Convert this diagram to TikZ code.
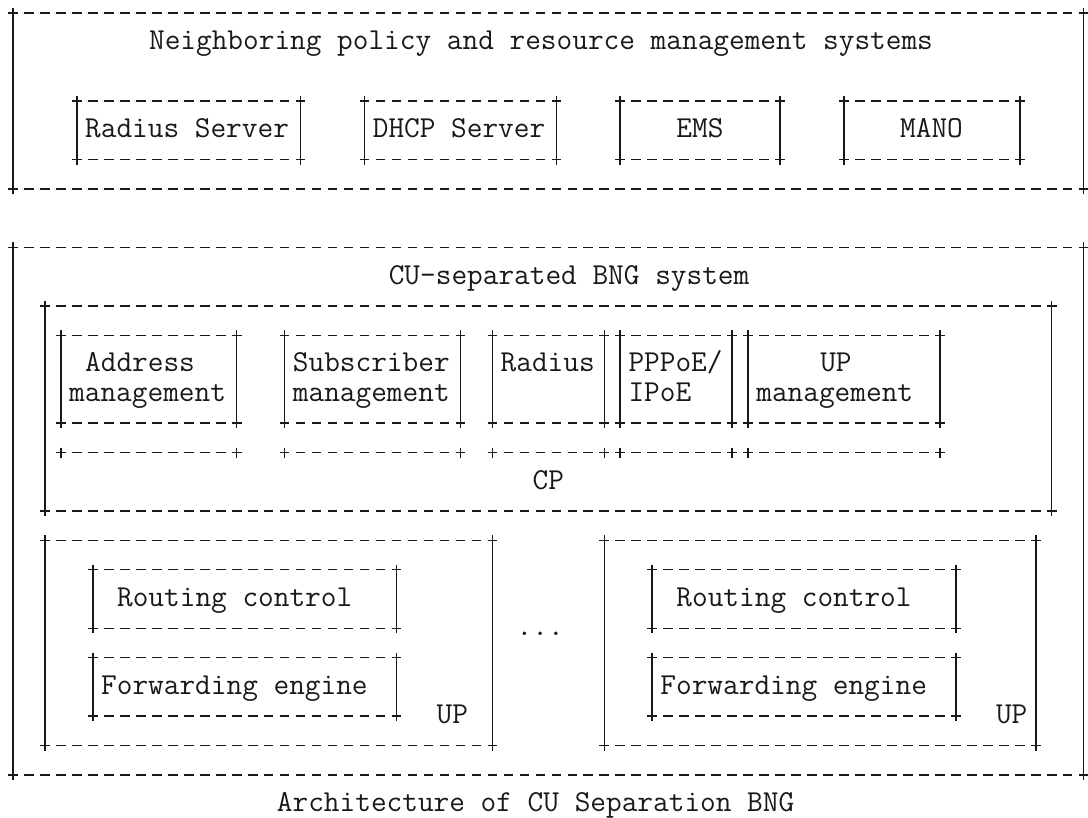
\documentclass[tikz,border=0pt]{standalone}
\usepackage{fontspec}
\usepackage{tikz}
\usetikzlibrary{fit}
\definecolor{ink}{RGB}{25,25,25}
\newcommand{\txtfont}{\ttfamily\fontsize{22.83pt}{27pt}\selectfont}

\begin{document}
\begin{tikzpicture}[x=11.985pt, y=-21.975pt,
  frame/.style={inner sep=0pt, outer sep=0pt},
  hline/.style={draw=ink, line width=1.15pt, dash pattern=on 7.2pt off 4.785pt, shorten <=-3.6pt, shorten >=-3.6pt},
  vline/.style={draw=ink, line width=1.15pt, shorten <=-3.75pt, shorten >=-3.75pt},
  arm/.style={draw=ink, line width=1.15pt},
  lbl/.style={font=\txtfont, text=ink, anchor=base west, inner sep=0pt, xshift=-5.99pt, yshift=-5.5pt}]
  \useasboundingbox (-9.75pt,9.75pt) rectangle (806.25pt,-603pt);

  \node[frame, fit={(0,0) (67,6)}] (top) {};
  \node[frame, fit={(4,3) (18,5)}] (radsrv) {};
  \node[frame, fit={(22,3) (34,5)}] (dhcp) {};
  \node[frame, fit={(38,3) (48,5)}] (ems) {};
  \node[frame, fit={(52,3) (63,5)}] (mano) {};

  \node[frame, fit={(0,8) (67,26)}] (bng) {};
  \node[frame, fit={(2,10) (65,17)}] (cp) {};
  \node[frame, fit={(3,11) (14,14)}] (addr) {};
  \node[frame, fit={(17,11) (28,14)}] (subs) {};
  \node[frame, fit={(30,11) (37,14)}] (radius) {};
  \node[frame, fit={(38,11) (45,14)}] (pppoe) {};
  \node[frame, fit={(46,11) (58,14)}] (upm) {};

  \node[frame, fit={(2,18) (30,25)}] (up1) {};
  \node[frame, fit={(5,19) (24,21)}] (rc1) {};
  \node[frame, fit={(5,22) (24,24)}] (fe1) {};
  \node[frame, fit={(37,18) (64,25)}] (up2) {};
  \node[frame, fit={(40,19) (59,21)}] (rc2) {};
  \node[frame, fit={(40,22) (59,24)}] (fe2) {};

  \foreach \b in {top,radsrv,dhcp,ems,mano,bng,cp,addr,subs,radius,pppoe,upm,up1,rc1,fe1,up2,rc2,fe2} {
    \draw[hline] (\b.north west) -- (\b.north east);
    \draw[hline] (\b.south west) -- (\b.south east);
    \draw[vline] (\b.north west) -- (\b.south west);
    \draw[vline] (\b.north east) -- (\b.south east);
  }

  \foreach \b in {addr,subs,radius,pppoe,upm} {
    \draw[hline] ([yshift=-21.975pt]\b.south west) -- ([yshift=-21.975pt]\b.south east);
    \draw[arm] ([yshift=-18.225pt]\b.south west) -- ([yshift=-25.725pt]\b.south west);
    \draw[arm] ([yshift=-18.225pt]\b.south east) -- ([yshift=-25.725pt]\b.south east);
  }

  \node[lbl] (toptxt) at (9,1) {Neighboring policy and resource management systems};
  \node[lbl] (radsrvtxt) at (5,4) {Radius Server};
  \node[lbl] (dhcptxt) at (23,4) {DHCP Server};
  \node[lbl] (emstxt) at (42,4) {EMS};
  \node[lbl] (manotxt) at (56,4) {MANO};

  \node[lbl] (bngtxt) at (24,9) {CU-separated BNG system};
  \node[lbl] (addrtxt) at (5,12) {Address};
  \node[lbl] (addrtxt2) at (4,13) {management};
  \node[lbl] (substxt) at (18,12) {Subscriber};
  \node[lbl] (substxt2) at (18,13) {management};
  \node[lbl] (radiustxt) at (31,12) {Radius};
  \node[lbl] (pppoetxt) at (39,12) {PPPoE/};
  \node[lbl] (pppoetxt2) at (39,13) {IPoE};
  \node[lbl] (upmtxt) at (51,12) {UP};
  \node[lbl] (upmtxt2) at (47,13) {management};
  \node[lbl] (cptxt) at (33,16) {CP};

  \node[lbl] (rc1txt) at (7,20) {Routing control};
  \node[lbl] (fe1txt) at (6,23) {Forwarding engine};
  \node[lbl] (up1txt) at (27,24) {UP};
  \node[lbl] (dots) at (32,21) {...};
  \node[lbl] (rc2txt) at (42,20) {Routing control};
  \node[lbl] (fe2txt) at (41,23) {Forwarding engine};
  \node[lbl] (up2txt) at (62,24) {UP};

  \node[lbl] (caption) at (17,27) {Architecture of CU Separation BNG};
\end{tikzpicture}
\end{document}
